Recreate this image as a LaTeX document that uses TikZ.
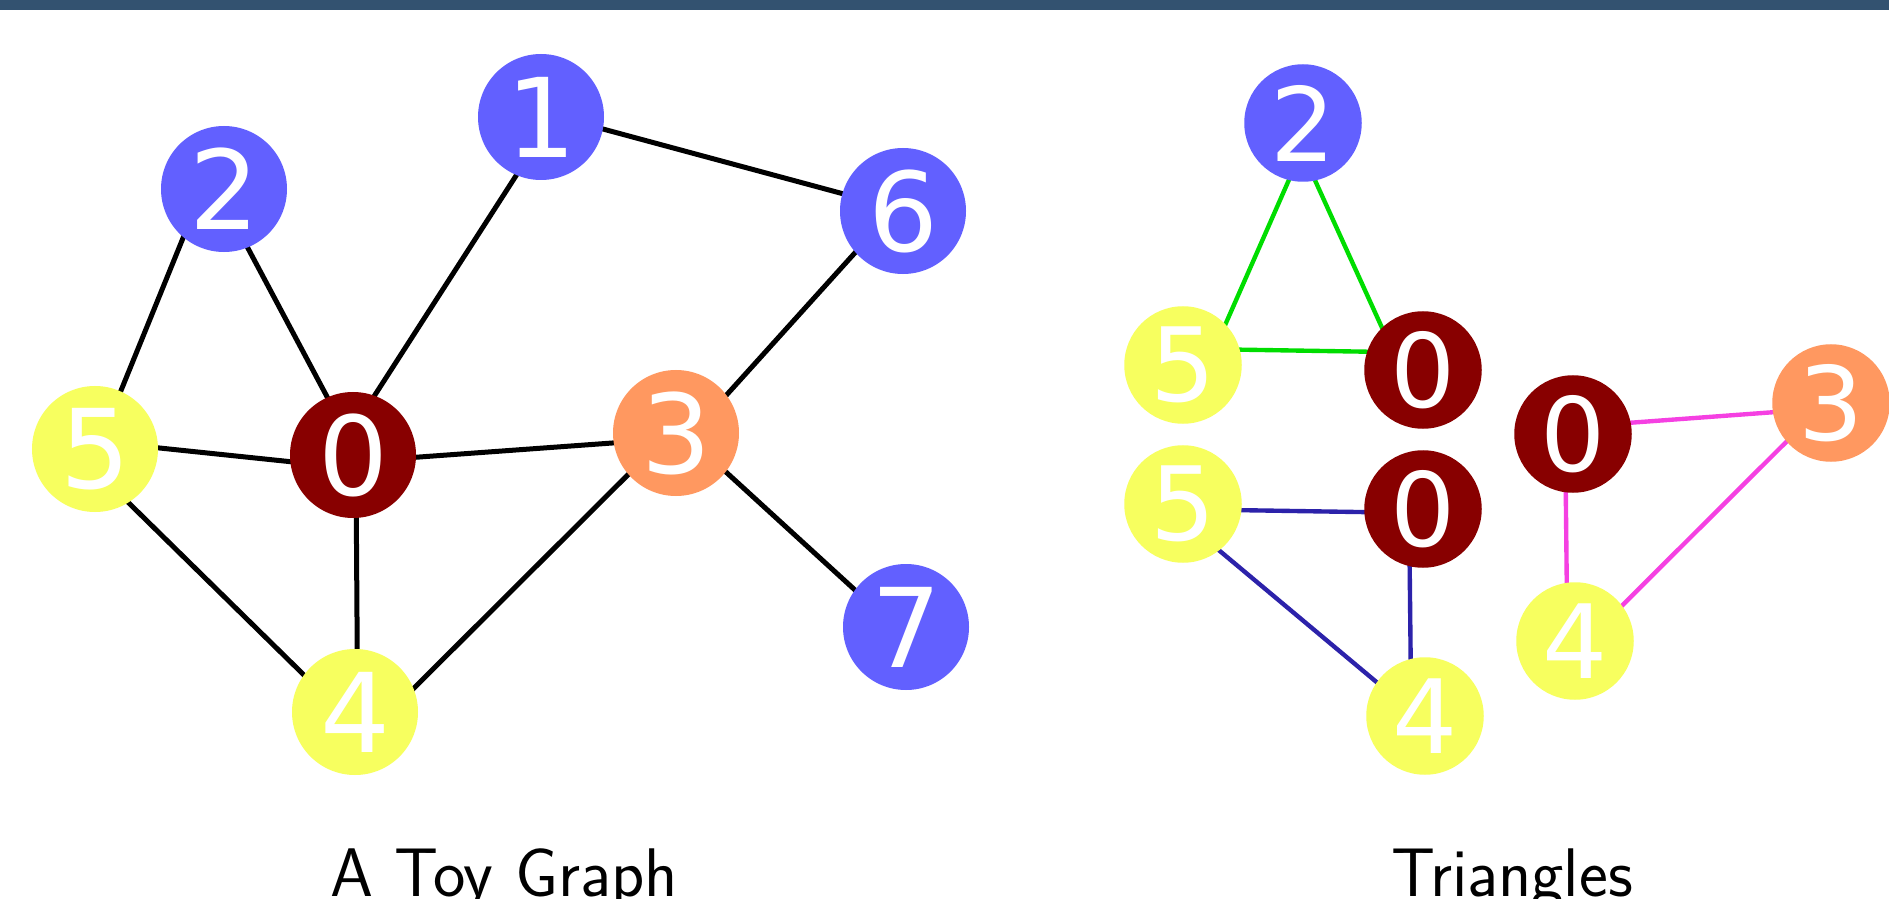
\documentclass[tikz,border=0pt]{standalone}
\usepackage{fontspec}
\usetikzlibrary{backgrounds}
\newfontfamily\digitfont{DejaVu Sans}
\definecolor{barblue}{RGB}{51,82,112}
\definecolor{nblue}{RGB}{98,96,255}
\definecolor{nred}{RGB}{136,0,0}
\definecolor{nyellow}{RGB}{247,255,95}
\definecolor{norange}{RGB}{255,152,96}
\definecolor{egreen}{RGB}{0,221,0}
\definecolor{enavy}{RGB}{44,34,170}
\definecolor{emagenta}{RGB}{245,64,226}
\tikzset{
  vbig/.style={circle, inner sep=0pt, minimum size=50.4pt, text=white,
    font=\digitfont\fontsize{44}{44}\selectfont},
  vsmall/.style={circle, inner sep=0pt, minimum size=47pt, text=white,
    font=\digitfont\fontsize{41}{41}\selectfont},
  edgebase/.style={shorten <=-3pt, shorten >=-3pt},
  edgeblack/.style={edgebase, draw=black, line width=2pt},
  edgecol/.style={edgebase, line width=1.75pt},
  caption/.style={anchor=base, font=\sffamily\fontsize{27.5}{32}\selectfont}
}
\begin{document}
\begin{tikzpicture}[x=0.4pt, y=-0.4pt]
\useasboundingbox (0,0) rectangle (1889,899);
\begin{pgfonlayer}{background}
  \fill[white] (0,0) rectangle (1889,899);
\end{pgfonlayer}
\fill[barblue] (0,0) rectangle (1889,10);

% toy graph
\node[vbig, fill=nred]    (t0) at (353,455) {0};
\node[vbig, fill=nblue]   (t1) at (541,117) {1};
\node[vbig, fill=nblue]   (t2) at (224,189) {2};
\node[vbig, fill=norange] (t3) at (676,433) {3};
\node[vbig, fill=nyellow] (t4) at (355,712) {4};
\node[vbig, fill=nyellow] (t5) at (95,449)  {5};
\node[vbig, fill=nblue]   (t6) at (903,211) {6};
\node[vbig, fill=nblue]   (t7) at (906,627) {7};
\begin{pgfonlayer}{background}
  \draw[edgeblack] (t2.230) -- (t5.66);
  \draw[edgeblack] (t2.292) -- (t0.114);
  \draw[edgeblack] (t1.247) -- (t0.70);
  \draw[edgeblack] (t1.349) -- (t6.164);
  \draw[edgeblack] (t5.1)   -- (t0.186);
  \draw[edgeblack] (t5.302) -- (t4.144);
  \draw[edgeblack] (t0.273) -- (t4.88);
  \draw[edgeblack] (t0.358) -- (t3.189);
  \draw[edgeblack] (t3.37)  -- (t6.221);
  \draw[edgeblack] (t3.322) -- (t7.144);
  \draw[edgeblack] (t3.221) -- (t4.22);
\end{pgfonlayer}

% triangle 0-2-5
\node[vsmall, fill=nblue]   (a2) at (1303,123) {2};
\node[vsmall, fill=nyellow] (a5) at (1183,365) {5};
\node[vsmall, fill=nred]    (a0) at (1423,370) {0};
% triangle 0-4-5
\node[vsmall, fill=nyellow] (b5) at (1183,504) {5};
\node[vsmall, fill=nred]    (b0) at (1423,509) {0};
\node[vsmall, fill=nyellow] (b4) at (1425,716) {4};
% triangle 0-3-4
\node[vsmall, fill=nred]    (c0) at (1573,434) {0};
\node[vsmall, fill=norange] (c3) at (1831,403) {3};
\node[vsmall, fill=nyellow] (c4) at (1575,641) {4};
\begin{pgfonlayer}{background}
  \draw[edgecol, egreen] (a2.256) -- (a5.44);
  \draw[edgecol, egreen] (a2.282) -- (a0.134);
  \draw[edgecol, egreen] (a5.15)  -- (a0.162);
  \draw[edgecol, enavy] (b5.354) -- (b0.183);
  \draw[edgecol, enavy] (b5.308) -- (b4.145);
  \draw[edgecol, enavy] (b0.257) -- (b4.104);
  \draw[edgecol, emagenta] (c0.11)  -- (c3.189);
  \draw[edgecol, emagenta] (c0.263) -- (c4.98);
  \draw[edgecol, emagenta] (c3.221) -- (c4.37);
\end{pgfonlayer}

% captions
\node[caption] (cap1) at (504,896) {A Toy Graph};
\node[caption] (cap2) at (1512,896) {Triangles};
\end{tikzpicture}
\end{document}
